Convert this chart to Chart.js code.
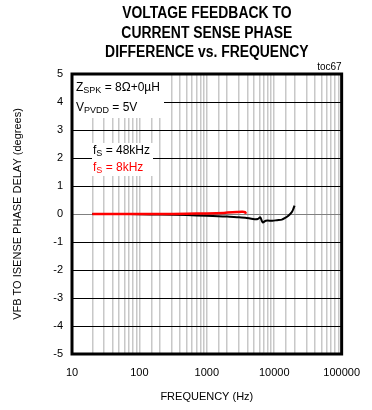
<!DOCTYPE html>
<html>
<head>
<meta charset="utf-8">
<script src="https://cdn.jsdelivr.net/npm/chart.js@4/dist/chart.umd.min.js"></script>
<style>
  html, body { margin: 0; padding: 0; background: #fff; }
  #wrap { width: 372px; height: 410px; }
</style>
</head>
<body>
<div id="wrap"><canvas id="chart" width="372" height="410"></canvas></div>
<script>
// fs = 48kHz trace (black)
const freq48 = [20, 50, 100, 200, 500, 1000, 2000, 3000, 3700, 4850, 5700, 6200, 6750, 7500, 9400, 11000, 13000, 14500, 16200, 18100, 19200, 20000];
const phase48 = [0, 0, -0.01, -0.02, -0.04, -0.06, -0.09, -0.12, -0.13, -0.18, -0.18, -0.12, -0.3, -0.24, -0.24, -0.22, -0.2, -0.14, -0.06, 0.06, 0.18, 0.3];

// fs = 8kHz trace (red)
const freq8 = [20, 50, 100, 200, 500, 1000, 1800, 2800, 3300, 3700, 3800];
const phase8 = [0, 0, 0, 0, 0.01, 0.02, 0.04, 0.07, 0.08, 0.07, 0.01];

const yTicks = [-5, -4, -3, -2, -1, 0, 1, 2, 3, 4, 5];
const xLabels = [10, 100, 1000, 10000, 100000];

const titleLines = ["VOLTAGE FEEDBACK TO", "CURRENT SENSE PHASE", "DIFFERENCE vs. FREQUENCY"];

function toPoints(xs, ys) {
  return xs.map((x, i) => ({ x: x, y: ys[i] }));
}

// text with a subscript part: [main, sub, rest]
function drawSubText(ctx, x, y, parts, color) {
  ctx.fillStyle = color;
  ctx.textBaseline = "middle";
  ctx.textAlign = "left";
  ctx.font = "12px 'Liberation Sans', Arial, sans-serif";
  ctx.fillText(parts[0], x, y);
  x += ctx.measureText(parts[0]).width;
  ctx.font = "9px 'Liberation Sans', Arial, sans-serif";
  ctx.fillText(parts[1], x, y + 3);
  x += ctx.measureText(parts[1]).width;
  ctx.font = "12px 'Liberation Sans', Arial, sans-serif";
  ctx.fillText(parts[2], x, y);
}

const decorations = {
  id: "decorations",
  afterDatasetsDraw(chart) {
    const ctx = chart.ctx;
    ctx.save();
    // white label boxes over the grid
    ctx.fillStyle = "#fff";
    ctx.fillRect(73, 75, 91, 43);
    ctx.fillRect(92, 143, 61, 33);
    drawSubText(ctx, 76, 88, ["Z", "SPK", " = 8\u03A9+0\u00B5H"], "#000");
    drawSubText(ctx, 76, 108, ["V", "PVDD", " = 5V"], "#000");
    drawSubText(ctx, 93, 151, ["f", "S", " = 48kHz"], "#000");
    drawSubText(ctx, 93, 168, ["f", "S", " = 8kHz"], "#ff0000");
    ctx.restore();
  },
  afterDraw(chart) {
    const ctx = chart.ctx;
    const a = chart.chartArea;
    ctx.save();
    ctx.strokeStyle = "#000";
    ctx.lineWidth = 3;
    ctx.strokeRect(a.left, a.top, a.right - a.left, a.bottom - a.top);

    // condensed bold title
    ctx.fillStyle = "#000";
    ctx.textAlign = "center";
    ctx.textBaseline = "middle";
    ctx.font = "bold 16px 'Liberation Sans', Arial, sans-serif";
    const cx = (a.left + a.right) / 2;
    titleLines.forEach((line, i) => {
      ctx.save();
      ctx.translate(cx, 14 + i * 19.3);
      ctx.scale(0.87, 1);
      ctx.fillText(line, 0, 0);
      ctx.restore();
    });

    ctx.font = "10px 'Liberation Sans', Arial, sans-serif";
    ctx.textAlign = "right";
    ctx.textBaseline = "alphabetic";
    ctx.fillText("toc67", a.right, a.top - 4);
    ctx.restore();
  }
};

const ctx = document.getElementById("chart").getContext("2d");
new Chart(ctx, {
  type: "line",
  data: {
    datasets: [
      {
        label: "fS = 8kHz",
        data: toPoints(freq8, phase8),
        borderColor: "#ff0000",
        borderWidth: 2.5,
        pointRadius: 0,
        tension: 0.3,
        fill: false
      },
      {
        label: "fS = 48kHz",
        data: toPoints(freq48, phase48),
        borderColor: "#000000",
        borderWidth: 2,
        pointRadius: 0,
        tension: 0.3,
        fill: false
      }
    ]
  },
  options: {
    responsive: false,
    animation: false,
    layout: { padding: { top: 74, right: 21, left: 0, bottom: 0 } },
    plugins: {
      legend: { display: false },
      title: { display: false },
      tooltip: { enabled: false }
    },
    scales: {
      x: {
        type: "logarithmic",
        min: 10,
        max: 100000,
        afterFit: function(scale) { scale.height = 56; },
        grid: { color: "#c8c8c8", lineWidth: 1.5, drawTicks: false },
        border: { display: false },
        ticks: {
          autoSkip: false,
          maxRotation: 0,
          padding: 12,
          color: "#000",
          font: { family: "'Liberation Sans', Arial, sans-serif", size: 11 },
          callback: function(value) {
            return xLabels.includes(value) ? String(value) : "";
          }
        },
        title: {
          display: true,
          text: "FREQUENCY (Hz)",
          color: "#000",
          padding: { top: 0, bottom: 6 },
          font: { family: "'Liberation Sans', Arial, sans-serif", size: 11 }
        }
      },
      y: {
        min: -5,
        max: 5,
        afterFit: function(scale) { scale.width = 72; },
        afterBuildTicks: function(scale) {
          scale.ticks = yTicks.map(v => ({ value: v }));
        },
        grid: {
          color: function(c) { return c.tick && c.tick.value === 0 ? "#808080" : "#000"; },
          lineWidth: 1,
          drawTicks: false
        },
        border: { display: false },
        ticks: {
          padding: 9,
          color: "#000",
          font: { family: "'Liberation Sans', Arial, sans-serif", size: 11 }
        },
        title: {
          display: true,
          text: "VFB TO ISENSE PHASE DELAY (degrees)",
          color: "#000",
          padding: { top: 11, bottom: 0 },
          font: { family: "'Liberation Sans', Arial, sans-serif", size: 11 }
        }
      }
    }
  },
  plugins: [decorations]
});
</script>
</body>
</html>
